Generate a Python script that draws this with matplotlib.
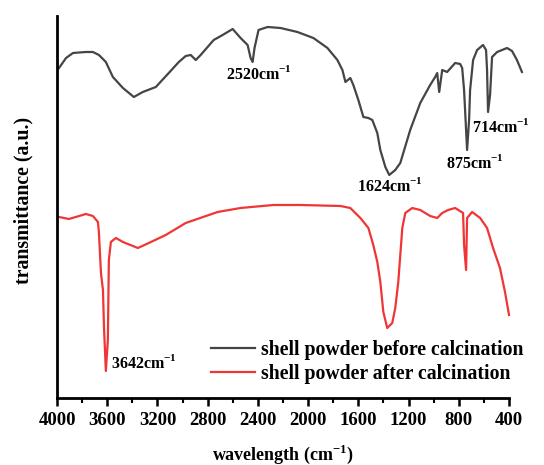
import numpy as np
import matplotlib.pyplot as plt
from matplotlib.ticker import MultipleLocator

plt.rcParams['font.family'] = ['Liberation Serif', 'DejaVu Serif']
plt.rcParams['font.weight'] = 'bold'
plt.rcParams['mathtext.fontset'] = 'custom'
plt.rcParams['mathtext.rm'] = 'Liberation Serif'
plt.rcParams['mathtext.bf'] = 'Liberation Serif:bold'

# shell powder before calcination (wavenumber, transmittance a.u.)
wn_before = [3984, 3928, 3873, 3770, 3714, 3666, 3611, 3555, 3475, 3388,
             3317, 3213, 3110, 3030, 2975, 2935, 2895, 2856, 2752, 2681,
             2601, 2538, 2482, 2458, 2442, 2427, 2395, 2323, 2220, 2085,
             1958, 1846, 1767, 1727, 1703, 1664, 1640, 1600, 1560, 1520,
             1489, 1449, 1425, 1385, 1354, 1306, 1266, 1187, 1107, 1028,
             988, 972, 956, 932, 893, 829, 789, 773, 758, 742,
             734, 718, 710, 686, 654, 607, 583, 575, 567, 551,
             535, 495, 416, 376, 337, 297]
tr_before = [330, 340, 345, 346, 346, 343, 336, 321, 310, 301,
             306, 311, 325, 336, 342, 343, 338, 343, 358, 363,
             369, 360, 353, 340, 336, 350, 368, 371, 370, 366,
             360, 350, 338, 328, 316, 320, 313, 298, 281, 280,
             278, 265, 248, 231, 223, 228, 235, 268, 295, 313,
             321, 325, 306, 328, 326, 335, 334, 330, 308, 268,
             248, 278, 308, 338, 348, 353, 348, 328, 286, 303,
             341, 346, 350, 347, 338, 326]

# shell powder after calcination
wn_after = [3984, 3905, 3770, 3714, 3674, 3666, 3650, 3634, 3626, 3611,
            3595, 3587, 3571, 3531, 3475, 3356, 3269, 3134, 2975, 2721,
            2538, 2276, 2061, 1743, 1664, 1584, 1520, 1481, 1449, 1425,
            1401, 1370, 1330, 1306, 1282, 1250, 1226, 1171, 1107, 1028,
            972, 932, 885, 829, 766, 758, 742, 734, 694, 630,
            575, 527, 472, 432, 400]
tr_after = [181, 179, 184, 182, 176, 165, 125, 108, 71, 27,
            58, 138, 156, 160, 156, 150, 155, 163, 175, 186,
            190, 193, 193, 192, 190, 180, 170, 153, 136, 116,
            86, 70, 75, 90, 116, 170, 185, 190, 188, 182,
            180, 185, 188, 190, 185, 153, 128, 180, 186, 180,
            170, 150, 130, 106, 83]

# peak labels
peak_text = ['2520cm$^{-1}$', '1624cm$^{-1}$', '875cm$^{-1}$', '714cm$^{-1}$', '3642cm$^{-1}$']
peak_x = [2657, 1608, 901, 694, 3570]
peak_y = [324, 212, 235, 271, 35]

fig = plt.figure(figsize=(5.44, 4.65), dpi=100)
ax = fig.add_axes([0.1048, 0.1441, 0.8309, 0.8215])

ax.plot(wn_before, tr_before, color='#454545', lw=1.6, clip_on=False,
        label='shell powder before calcination')
ax.plot(wn_after, tr_after, color='#f03535', lw=1.6, clip_on=False,
        label='shell powder after calcination')

for txt, x, y in zip(peak_text, peak_x, peak_y):
    ax.text(x, y, txt, fontsize=11.5, fontweight='bold', ha='left', va='center')

ax.set_xlim(4000, 400)
ax.set_ylim(0, 382)
ax.xaxis.set_major_locator(MultipleLocator(400))
ax.xaxis.set_minor_locator(MultipleLocator(200))
ax.set_yticks([])
ax.spines['top'].set_visible(False)
ax.spines['right'].set_visible(False)
ax.spines['left'].set_linewidth(2)
ax.spines['bottom'].set_linewidth(2)
ax.tick_params(axis='x', which='major', direction='out', length=6, width=1.8,
               labelsize=13.5, pad=4)
ax.tick_params(axis='x', which='minor', direction='out', length=3.5, width=1.5)
for lab in ax.get_xticklabels():
    lab.set_fontweight('bold')

ax.set_xlabel('wavelength (cm$^{-1}$)', fontsize=13, fontweight='bold', labelpad=10)
ax.set_ylabel('transmittance (a.u.)', fontsize=14.3, fontweight='bold')
ax.yaxis.set_label_coords(-0.053, 0.518)

leg = ax.legend(loc='lower left', bbox_to_anchor=(0.31, 0.0), frameon=False,
                prop={'size': 14.2, 'weight': 'bold'}, handlelength=2.23,
                handletextpad=0.3, labelspacing=0.2, borderaxespad=0.3)

fig.savefig('out.png', dpi=100)
